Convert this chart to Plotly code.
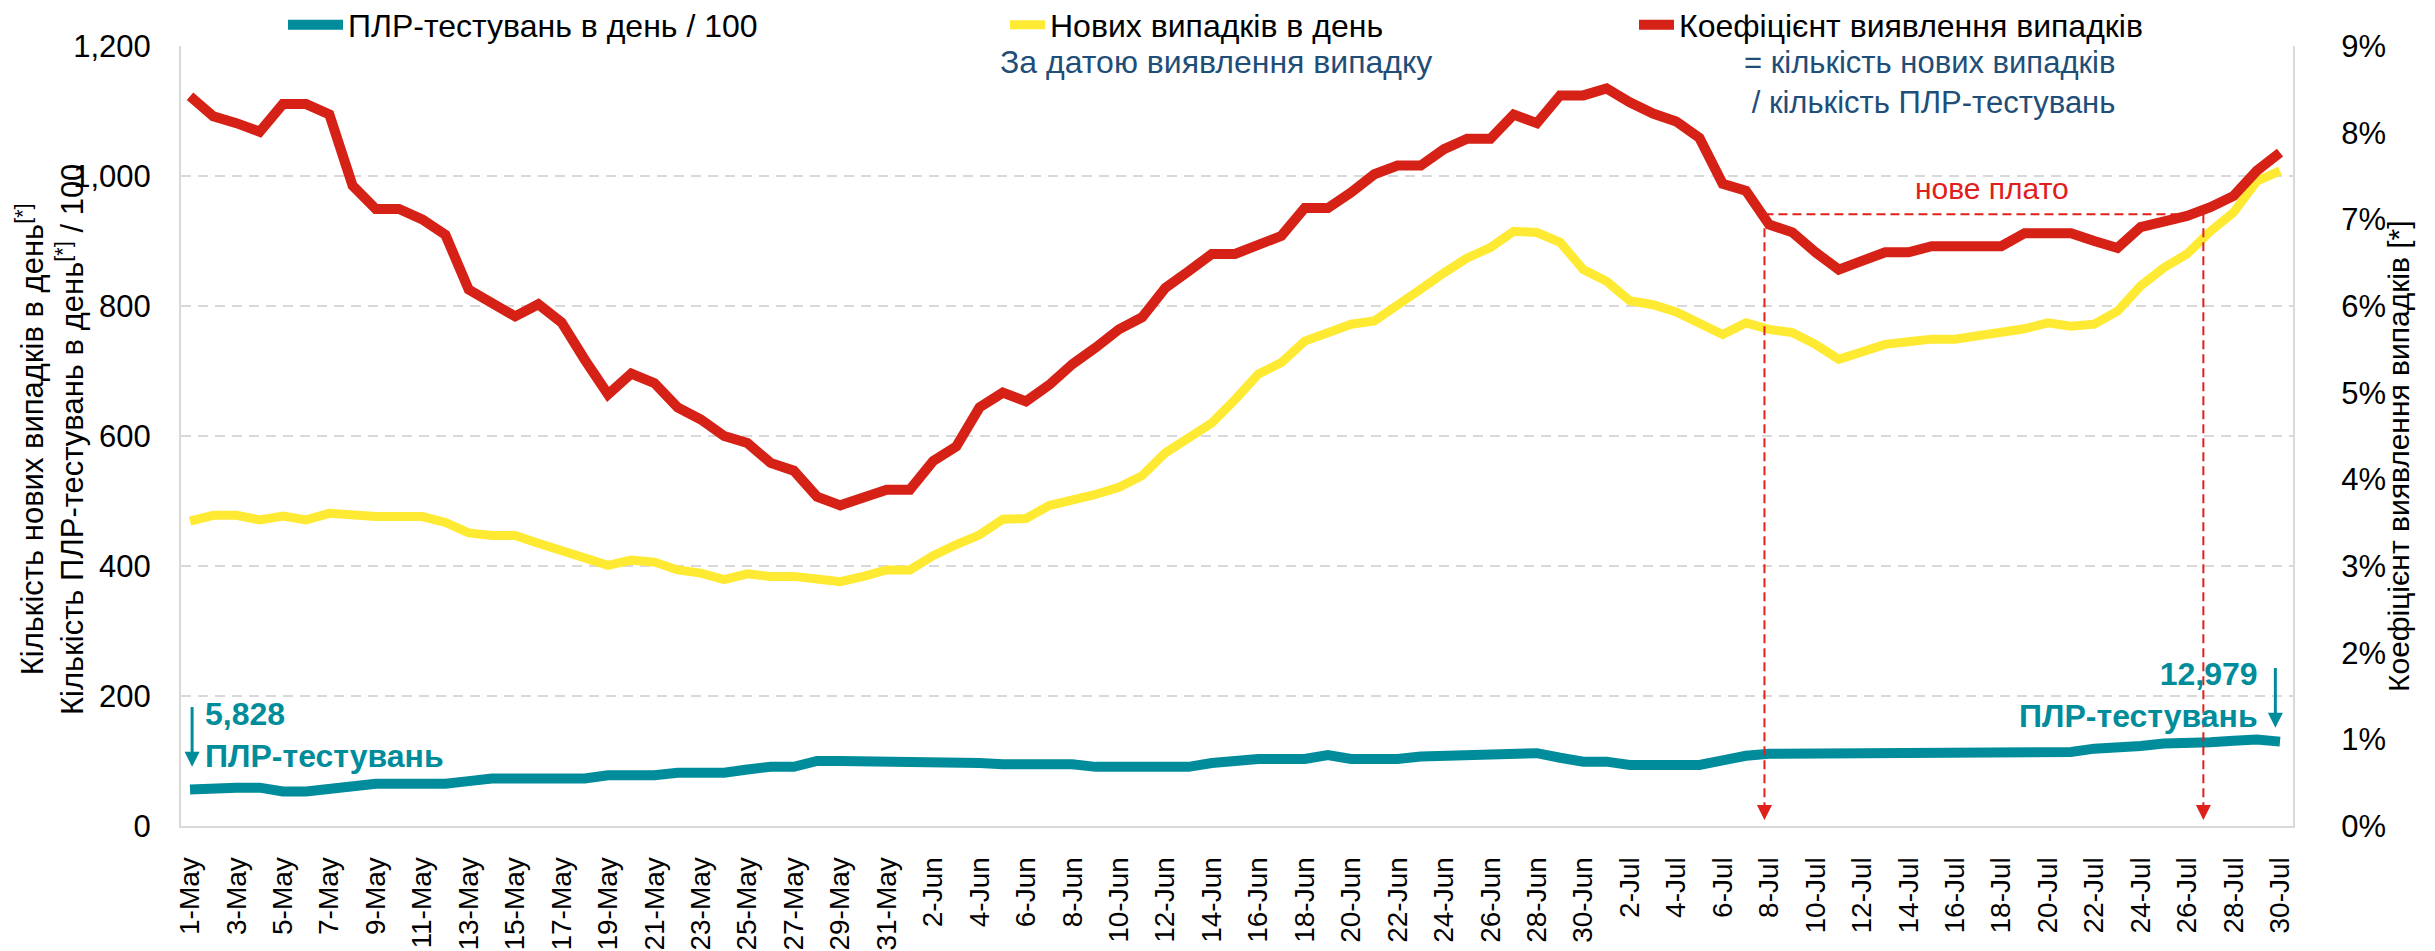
import pandas as pd
import plotly.graph_objects as go

# ---------------- data ----------------
dates = pd.date_range("2020-05-01", "2020-07-30", freq="D")
day_labels = [f"{d.day}-{d:%b}" for d in dates]
day_idx = list(range(len(dates)))

# ПЛР-тестувань в день / 100
tests_per_100 = [56, 59, 59, 59, 53, 53, 58, 62, 65, 65, 65, 65, 69, 73, 73, 73, 73, 73,
                 78, 78, 78, 82, 82, 82, 87, 91, 91, 100, 100, 100, 100, 100, 100, 100,
                 97, 95, 95, 95, 95, 91, 91, 91, 91, 91, 97, 101, 103, 103, 103, 109,
                 103, 103, 103, 107, 108, 112, 112, 112, 112, 105, 99, 99, 94, 94, 94,
                 94, 101, 108, 111, 111, 111, 111, 111, 111, 111, 111, 111, 111, 111,
                 111, 111, 114, 119, 120, 123, 127, 127, 129, 131, 133, 129.8]

# Нових випадків в день
new_cases = [469, 478, 478, 471, 477, 471, 481, 477, 476, 476, 476, 467, 451, 447, 447,
             435, 424, 410, 401, 409, 406, 394, 389, 379, 388, 384, 384, 380, 376, 384,
             394, 394, 416, 433, 448, 472, 473, 493, 501, 510, 521, 539, 574, 597, 620,
             656, 695, 713, 746, 759, 772, 777, 800, 826, 851, 874, 890, 915, 913, 898,
             856, 838, 808, 802, 791, 774, 756, 774, 764, 759, 741, 718, 729, 741, 745,
             749, 749, 754, 761, 765, 774, 769, 772, 792, 831, 859, 880, 915, 944, 992,
             1008]

# Коефіцієнт виявлення випадків, %
positivity_pct = [8.42, 8.19, 8.11, 8.01, 8.33, 8.33, 8.21, 7.39, 7.12, 7.12, 7.00, 6.82,
                  6.19, 6.02, 5.88, 6.02, 5.81, 5.38, 4.98, 5.22, 5.11, 4.83, 4.69, 4.50,
                  4.42, 4.19, 4.10, 3.80, 3.70, 3.79, 3.88, 3.88, 4.21, 4.38, 4.83, 5.00,
                  4.90, 5.09, 5.33, 5.52, 5.73, 5.87, 6.21, 6.40, 6.60, 6.60, 6.71, 6.81,
                  7.13, 7.13, 7.31, 7.52, 7.62, 7.62, 7.81, 7.93, 7.93, 8.21, 8.11, 8.43,
                  8.43, 8.51, 8.35, 8.22, 8.13, 7.94, 7.41, 7.33, 6.94, 6.85, 6.62, 6.42,
                  6.52, 6.62, 6.62, 6.69, 6.69, 6.69, 6.69, 6.84, 6.84, 6.84, 6.75, 6.67,
                  6.91, 6.98, 7.04, 7.14, 7.27, 7.56, 7.77]
positivity = [v / 100 for v in positivity_pct]

left_ticks = [0, 200, 400, 600, 800, 1000, 1200]
right_ticks = [i / 100 for i in range(10)]

plateau_level = 0.0706
plateau_start, plateau_end = 67.8, 86.7

# ---------------- style ----------------
FONT = "Liberation Sans, Arial, sans-serif"
TEAL = "#008C9A"
YELLOW = "#FFEA33"
RED = "#D52116"
DASHRED = "#E0201B"
NAVY = "#1F4E79"
GRID = "#D9D9D9"

fig = go.Figure()
fig.add_trace(go.Scatter(x=day_idx, y=tests_per_100, mode="lines",
                         name="ПЛР-тестувань в день / 100",
                         line=dict(color=TEAL, width=10), legend="legend"))
fig.add_trace(go.Scatter(x=day_idx, y=new_cases, mode="lines",
                         name="Нових випадків в день",
                         line=dict(color=YELLOW, width=9), legend="legend2"))
fig.add_trace(go.Scatter(x=day_idx, y=positivity, mode="lines",
                         name="Коефіцієнт виявлення випадків", yaxis="y2",
                         line=dict(color=RED, width=10), legend="legend3"))

# the page adds an 8px body margin; the figure is sized/positioned to compensate
OFF = 8
W, H = 2435 - OFF, 951 - OFF
L, R, T = 181 - OFF, 142, 46 - OFF
B = H - (826 - OFF)
pw, ph = W - L - R, H - T - B


def px_x(page_px):
    return (page_px - OFF - L) / pw


def px_y(page_py):
    return (H - B - (page_py - OFF)) / ph


leg_common = dict(orientation="h", yanchor="middle", y=px_y(25), xanchor="left",
                  font=dict(family=FONT, size=32, color="#000000"),
                  bgcolor="rgba(0,0,0,0)", borderwidth=0)

fig.update_layout(
    width=W, height=H,
    margin=dict(l=L, r=R, t=T, b=B, autoexpand=False),
    paper_bgcolor="white", plot_bgcolor="white",
    font=dict(family=FONT, size=30, color="#000000"),
    showlegend=True,
    legend=dict(leg_common, x=px_x(283), itemwidth=55),
    legend2=dict(leg_common, x=px_x(1005), itemwidth=35),
    legend3=dict(leg_common, x=px_x(1634), itemwidth=35),
    xaxis=dict(range=[-0.388, 90.56], tickmode="array",
               tickvals=day_idx[::2], ticktext=day_labels[::2],
               tickangle=-90, showgrid=False, zeroline=False,
               showline=True, linecolor=GRID, linewidth=2, ticks="",
               ticklabelstandoff=18, tickfont=dict(size=28, color="#000000")),
    yaxis=dict(range=[0, 1200], tickvals=left_ticks, tickformat=",d",
               showgrid=True, gridcolor=GRID, gridwidth=2, griddash="10px,7px",
               zeroline=False, showline=True, linecolor=GRID, linewidth=2,
               ticks="", ticklabelstandoff=22, tickfont=dict(size=31, color="#000000")),
    yaxis2=dict(range=[0, 0.09], tickvals=right_ticks, tickformat=".0%",
                overlaying="y", side="right", showgrid=False, zeroline=False,
                showline=True, linecolor=GRID, linewidth=2, ticks="",
                ticklabelstandoff=40, tickfont=dict(size=31, color="#000000")),
)

# plateau dashed lines with arrowheads at the x axis
dash_line = dict(color=DASHRED, width=2, dash="9px,5px")
fig.add_shape(type="line", xref="x", yref="y2", x0=plateau_start, x1=plateau_end,
              y0=plateau_level, y1=plateau_level, line=dash_line, layer="above")
for xv in (plateau_start, plateau_end):
    fig.add_shape(type="line", xref="x", yref="y2", x0=xv, x1=xv,
                  y0=plateau_level, y1=0.002, line=dash_line, layer="above")
    fig.add_shape(type="path", xref="x", yref="y2", xsizemode="pixel", ysizemode="pixel",
                  xanchor=xv, yanchor=0.0007, path="M-7.5,15 L7.5,15 L0,0 Z",
                  fillcolor=DASHRED, line=dict(width=0), layer="above")

fig.add_annotation(x=77.6, y=0.0736, xref="x", yref="y2", text="нове плато",
                   showarrow=False, font=dict(size=30, color=DASHRED))

# top notes
fig.add_annotation(x=44.2, y=1175, xref="x", yref="y", text="За датою виявлення випадку",
                   showarrow=False, font=dict(size=32, color=NAVY))
fig.add_annotation(x=83.0, y=1144, xref="x", yref="y", xanchor="right", align="right",
                   text="= кількість нових випадків<br>/ кількість ПЛР-тестувань",
                   showarrow=False, font=dict(size=31, color=NAVY))

# test-count annotations with arrows
fig.add_annotation(x=0.55, y=140, xref="x", yref="y", xanchor="left", align="left",
                   text="<b>5,828<br>ПЛР-тестувань</b>", showarrow=False,
                   font=dict(size=32, color=TEAL))
fig.add_annotation(x=89.15, y=201, xref="x", yref="y", xanchor="right", align="right",
                   text="<b>12,979<br>ПЛР-тестувань</b>", showarrow=False,
                   font=dict(size=32, color=TEAL))
for xv, tail, tip in ((0.09, 183, 91), (89.8, 243, 151)):
    fig.add_shape(type="line", xref="x", yref="y", x0=xv, x1=xv, y0=tail, y1=tip + 15,
                  line=dict(color=TEAL, width=3), layer="above")
    fig.add_shape(type="path", xref="x", yref="y", xsizemode="pixel", ysizemode="pixel",
                  xanchor=xv, yanchor=tip, path="M-7.5,15 L7.5,15 L0,0 Z",
                  fillcolor=TEAL, line=dict(width=0), layer="above")

# axis titles
fig.add_annotation(x=px_x(50), y=px_y(440), xref="paper", yref="paper",
                   text="Кількість нових випадків в день<sup>[*]</sup><br>"
                        "Кількість ПЛР-тестувань в день<sup>[*]</sup> / 100",
                   textangle=-90, showarrow=False, xanchor="center", yanchor="middle",
                   font=dict(size=31, color="#000000"))
fig.add_annotation(x=px_x(2398), y=px_y(456), xref="paper", yref="paper",
                   text="Коефіцієнт виявлення випадків [*]",
                   textangle=-90, showarrow=False, xanchor="center", yanchor="middle",
                   font=dict(size=30, color="#000000"))

fig.write_html("out.html")
